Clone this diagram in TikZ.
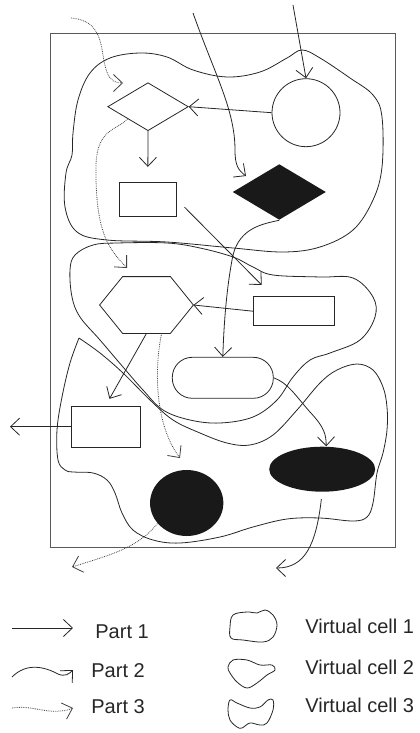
\documentclass[tikz,border=0pt]{standalone}
\usepackage{fontspec}
\setmainfont{Liberation Sans}
\usepackage{tikz}
\usetikzlibrary{shapes.geometric, arrows.meta}

\begin{document}
\begin{tikzpicture}[x=1pt, y=-1pt, line width=0.8pt, draw=black!85,
	box/.style={draw, rectangle, inner sep=0pt},
	blk/.style={fill=black!90, inner sep=0pt},
	partone/.style={-{Straight Barb[length=9pt,width=17pt]}},
	parttwo/.style={-{Straight Barb[length=9pt,width=17pt]}},
	partthree/.style={densely dotted, draw=black!75, -{Straight Barb[length=9pt,width=17pt]}},
	cell/.style={draw=black!85, line width=0.8pt},
	lbl/.style={anchor=west, inner sep=0pt, font=\fontsize{20}{24}\selectfont, text=black!85}]
	\useasboundingbox (0,0) rectangle (420,733);
	\draw[black!65, line width=1pt] (50.7,33.7) rectangle (395,547.3);
	\node[diamond, draw, inner sep=0pt, minimum width=80.6pt, minimum height=48pt] (dia) at (148,106.7) {};
	\node[circle, draw, inner sep=0pt, minimum size=68pt] (circ) at (306,112.7) {};
	\node[box, minimum width=57pt, minimum height=34pt] (boxA) at (147.8,199.3) {};
	\node[diamond, blk, minimum width=93.3pt, minimum height=55.7pt] (bdia) at (279.3,192) {};
	\node[inner sep=0pt, minimum width=93pt, minimum height=56pt] (hex) at (146.5,305) {};
	\draw (hex.west) -- ([xshift=23pt]hex.north west) -- ([xshift=-23pt]hex.north east) -- (hex.east)
		-- ([xshift=-23pt]hex.south east) -- ([xshift=23pt]hex.south west) -- cycle;
	\node[box, minimum width=81pt, minimum height=29pt] (boxB) at (293.8,311.2) {};
	\node[draw, rounded corners=20pt, inner sep=0pt, minimum width=101pt, minimum height=41pt] (stad) at (222.8,377.8) {};
	\node[box, minimum width=69pt, minimum height=41pt] (boxC) at (105.5,426.7) {};
	\node[ellipse, blk, minimum width=106pt, minimum height=45pt] (ell) at (322.2,469.2) {};
	\node[ellipse, blk, minimum width=73.3pt, minimum height=66pt] (bcirc) at (186.7,503) {};
	% virtual cells
	\draw[cell] plot[smooth cycle, tension=0.6] coordinates {(72,155) (73,133) (78,100) (90,73) (110,58)
		(140,53) (167,57) (193,70) (227,77) (260,72) (287,58) (302,50) (320,58) (350,78) (373,95)
		(382,117) (382,167) (373,200) (353,230) (320,247) (283,252) (233,248) (167,242) (107,240)
		(77,232) (65,207) (66,173)};
	\draw[cell] plot[smooth cycle, tension=0.6] coordinates {(70,270) (75,255) (93,245) (117,243)
		(167,243) (200,248) (233,257) (253,267) (273,275) (320,277) (353,278) (373,297) (375,317)
		(360,340) (330,353) (310,360) (293,377) (277,400) (253,417) (220,423) (190,420) (163,410)
		(143,390) (123,367) (100,340) (80,317) (72,297)};
	\draw[cell] plot[smooth, tension=0.6] coordinates {(79,338) (100,353) (123,373) (150,400) (173,420)
		(200,433) (227,443) (250,445) (273,435) (297,410) (320,383) (337,370) (357,364) (373,370)
		(383,387) (387,407) (387,430) (383,453) (377,473) (373,503) (367,517) (353,521) (320,518)
		(287,519) (253,527) (220,537) (180,543) (153,540) (133,530) (122,513) (115,493) (107,480)
		(93,473) (73,472) (65,470) (58,460) (57,430) (62,397) (70,363) (79,338)};
	% loose ends
	\coordinate (srcA) at (293,5);
	\coordinate (srcB) at (193,13);
	\coordinate (srcC) at (71,18);
	\coordinate (tipA) at (261.7,285);
	\coordinate (tipC) at (123,83);
	\coordinate (tipD) at (127,268);
	\coordinate (tipE) at (180,458);
	\coordinate (outA) at (10,426.7);
	\coordinate (outB) at (276,568);
	\coordinate (outC) at (72,567);
	% part 1
	\draw[partone] (srcA) -- (circ.north);
	\draw[partone] (circ.west) -- (dia.east);
	\draw[partone, shorten >=15pt] (dia.south) -- (boxA.north);
	\draw[partone, shorten <=11pt] (boxA.east) -- (tipA);
	\draw[partone] (boxB.west) -- (hex.east);
	\draw[partone, shorten >=8pt] (hex.south) -- (boxC.north);
	\draw[partone] (boxC.west) -- (outA);
	% part 2
	\draw[parttwo] (srcB) .. controls (215,75) and (235,110) .. (235,150)
		.. controls (235,165) and (238,170) .. (246,176);
	\draw[parttwo] (bdia.south) .. controls (262,224) and (240,228) .. (233,255)
		.. controls (227,285) and (224,320) .. (stad.north);
	\draw[parttwo] (stad.east) .. controls (288,383) and (295,395) .. (310,412)
		.. controls (325,428) and (326,435) .. (ell.80);
	\draw[parttwo, shorten <=7pt] (ell.south) .. controls (316,545) and (305,568) .. (outB);
	% part 3
	\draw[partthree] (srcC) .. controls (95,20) and (100,35) .. (103,55)
		.. controls (106,75) and (110,83) .. (tipC);
	\draw[partthree] (dia.south west) .. controls (118,130) and (97,128) .. (96,165)
		.. controls (95,235) and (110,250) .. (tipD);
	\draw[partthree] (hex.-62) .. controls (154,370) and (155,425) .. (tipE);
	\draw[partthree] (bcirc.215) .. controls (138,548) and (110,555) .. (outC);
	% legend
	\node[lbl] (keyone) at (95,632) {Part 1};
	\node[lbl] (keytwo) at (91,671) {Part 2};
	\node[lbl] (keythree) at (91,707) {Part 3};
	\node[lbl] (cellone) at (305,626) {Virtual cell 1};
	\node[lbl] (celltwo) at (305,667) {Virtual cell 2};
	\node[lbl] (cellthree) at (305,705) {Virtual cell 3};
	\draw[partone] (12,628) -- (73,628);
	\draw[parttwo] (12,677) .. controls (27,662) and (45,667) .. (58,674) .. controls (65,677) and (69,674) .. (73,670);
	\draw[partthree] (12,708) .. controls (30,705) and (45,713) .. (60,711) .. controls (66,711) and (70,709) .. (73,708);
	\draw[cell] plot[smooth cycle, tension=0.6] coordinates {(233,615) (247,612) (257,613) (265,610)
		(273,615) (277,625) (273,637) (263,642) (243,640) (231,638) (230,627)};
	\draw[cell] plot[smooth cycle, tension=0.6] coordinates {(228,667) (233,660) (247,660) (260,665)
		(272,665) (275,670) (267,675) (257,683) (247,688) (237,682) (230,673)};
	\draw[cell] plot[smooth cycle, tension=0.6] coordinates {(230,700) (237,703) (250,708) (260,707)
		(268,700) (273,700) (273,710) (267,723) (260,725) (250,723) (242,728) (237,727) (230,720) (228,710)};
\end{tikzpicture}
\end{document}
